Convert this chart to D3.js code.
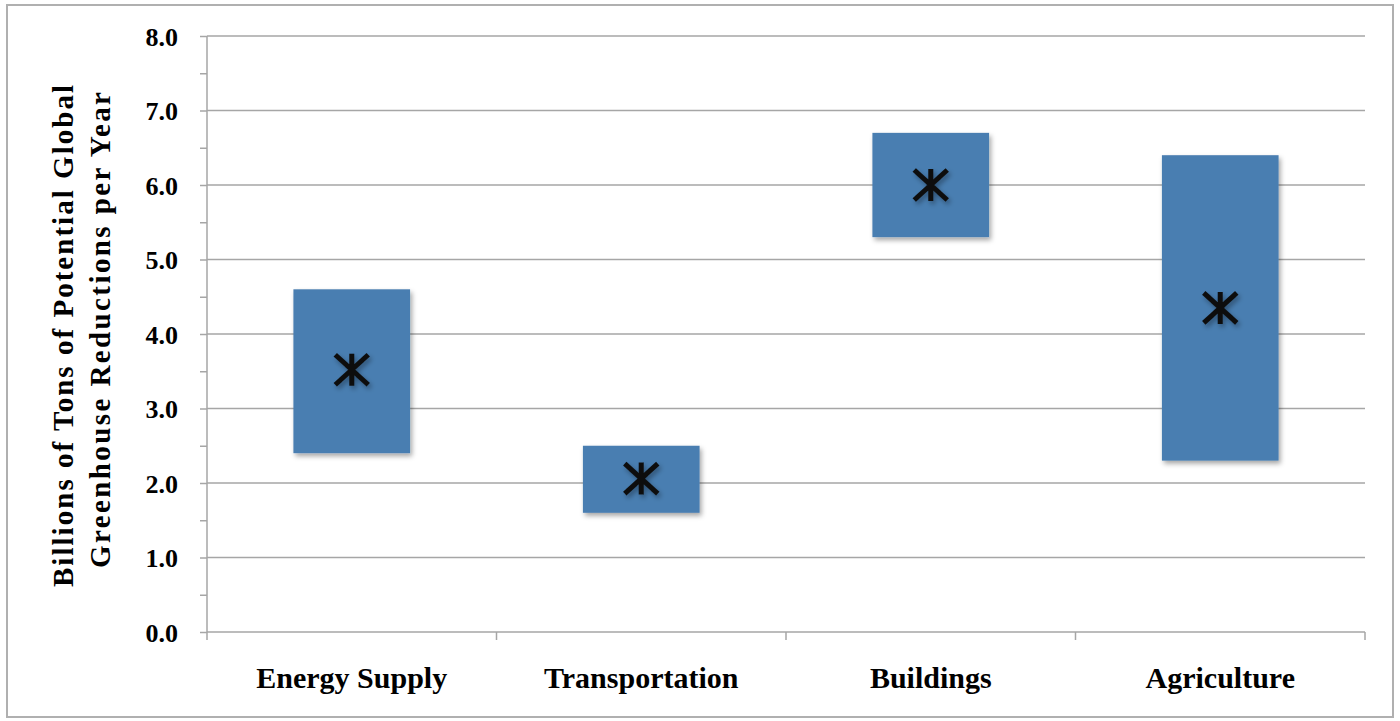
<!DOCTYPE html>
<html>
<head>
<meta charset="utf-8">
<script src="https://cdn.jsdelivr.net/npm/d3@7"></script>
<style>
  html, body { margin: 0; padding: 0; background: #fff; }
  svg { display: block; }
  text { font-family: "Liberation Serif", "DejaVu Serif", serif; font-weight: bold; fill: #000; }
</style>
</head>
<body>
<script>
const categories = ["Energy Supply", "Transportation", "Buildings", "Agriculture"];
const lowValues = [2.4, 1.6, 5.3, 2.3];
const highValues = [4.6, 2.5, 6.7, 6.4];
const midValues = [3.52, 2.06, 6.0, 4.35];
const yTicks = [0, 1, 2, 3, 4, 5, 6, 7, 8];
const yTitleLines = ["Billions of Tons of Potential Global", "Greenhouse Reductions per Year"];

const W = 1400, H = 721;
const plotL = 207, plotR = 1365, plotT = 36, plotB = 632;

const svg = d3.select("body").append("svg").attr("width", W).attr("height", H);

const defs = svg.append("defs");
const f = defs.append("filter").attr("id", "shadow").attr("x", "-20%").attr("y", "-20%").attr("width", "150%").attr("height", "150%");
f.append("feDropShadow").attr("dx", 2).attr("dy", 3).attr("stdDeviation", 2.5).attr("flood-color", "#000").attr("flood-opacity", 0.35);

// outer border
svg.append("rect").attr("x", 7).attr("y", 5).attr("width", 1386).attr("height", 712)
  .attr("fill", "none").attr("stroke", "#b0b0b0").attr("stroke-width", 2);

const x = d3.scaleBand().domain(categories).range([plotL, plotR]).padding(0);
const y = d3.scaleLinear().domain([0, 8]).range([plotB, plotT]);

// gridlines
svg.append("g").selectAll("line").data(yTicks.filter(d => d > 0)).join("line")
  .attr("x1", plotL).attr("x2", plotR)
  .attr("y1", d => y(d)).attr("y2", d => y(d))
  .attr("stroke", "#a6a6a6").attr("stroke-width", 1.5);

// y axis
const yAxis = d3.axisLeft(y).tickValues(d3.range(0, 8.01, 0.5)).tickSize(7)
  .tickFormat(d => Number.isInteger(d) ? d3.format(".1f")(d) : "");
const gy = svg.append("g").attr("transform", `translate(${plotL},0)`).call(yAxis);
gy.select(".domain").attr("stroke", "#a6a6a6").attr("stroke-width", 1.5).attr("d", `M0,${plotB}V${plotT}`);
gy.selectAll(".tick line").attr("stroke", "#a6a6a6").attr("stroke-width", 1.5);
gy.selectAll(".tick text").attr("x", -29).attr("dy", "0.35em")
  .style("font-family", "'Liberation Serif', serif").style("font-weight", "bold").style("font-size", "26px").attr("fill", "#000");

// x axis
const xAxis = d3.axisBottom(x).tickSize(0).tickFormat("");
const gx = svg.append("g").attr("transform", `translate(0,${plotB})`).call(xAxis);
gx.select(".domain").attr("stroke", "#a6a6a6").attr("stroke-width", 1.5).attr("d", `M${plotL},0H${plotR}`);
gx.selectAll(".tick").remove();
const bounds = [plotL].concat(categories.map(c => x(c) + x.bandwidth()));
gx.selectAll("line.sep").data(bounds).join("line").attr("class", "sep")
  .attr("x1", d => d).attr("x2", d => d).attr("y1", 0).attr("y2", 8)
  .attr("stroke", "#a6a6a6").attr("stroke-width", 1.5);
svg.append("g").selectAll("text").data(categories).join("text")
  .attr("x", d => x(d) + x.bandwidth() / 2).attr("y", 688)
  .attr("text-anchor", "middle").style("font-size", "30px").text(d => d);

// bars
const bw = x.bandwidth() * 0.403;
const rows = categories.map((c, i) => ({ c, lo: lowValues[i], hi: highValues[i], mid: midValues[i] }));
svg.append("g").selectAll("rect").data(rows).join("rect")
  .attr("x", d => x(d.c) + x.bandwidth() / 2 - bw / 2)
  .attr("width", bw)
  .attr("y", d => y(d.hi))
  .attr("height", d => y(d.lo) - y(d.hi))
  .attr("fill", "#4a7eb1")
  .attr("filter", "url(#shadow)");

// asterisk markers
const mk = svg.append("g").selectAll("g").data(rows).join("g")
  .attr("transform", d => `translate(${x(d.c) + x.bandwidth() / 2},${y(d.mid)})`)
  .attr("filter", "url(#shadow)");
mk.append("path")
  .attr("d", "M0,-16V16M-16.5,-15L16.5,15M-16.5,15L16.5,-15")
  .attr("stroke", "#111").attr("stroke-width", 5).attr("fill", "none");

// y title
const titleCfg = [{ base: 73, center: 336, len: 502 }, { base: 110, center: 330, len: 476 }];
svg.append("g").attr("transform", "rotate(-90)").selectAll("text").data(yTitleLines).join("text")
  .attr("x", (d, i) => -titleCfg[i].center)
  .attr("y", (d, i) => titleCfg[i].base)
  .attr("text-anchor", "middle")
  .attr("textLength", (d, i) => titleCfg[i].len)
  .attr("lengthAdjust", "spacing")
  .style("font-size", "29px")
  .text(d => d);
</script>
</body>
</html>
